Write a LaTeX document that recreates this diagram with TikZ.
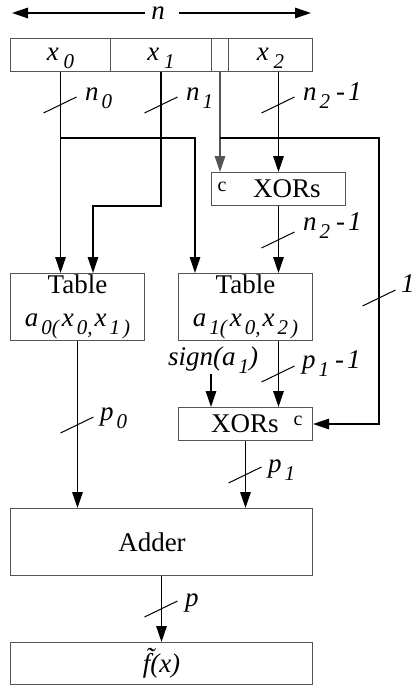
\documentclass[tikz,border=0pt]{standalone}
\usepackage{fontspec}
\setmainfont{Liberation Serif}
\usetikzlibrary{arrows.meta}
\definecolor{boxgray}{RGB}{85,85,85}
\newcommand\sbs[1]{\hspace{3pt}\raisebox{-8pt}{\fontsize{21}{21}\selectfont #1}}
\begin{document}
\begin{tikzpicture}[x=1pt,y=-1pt,
  box/.style={draw=boxgray, line width=1pt, inner sep=0pt, rectangle, anchor=north west,
    font=\fontsize{27}{33}\selectfont, align=center},
  txt/.style={inner sep=0pt, font=\fontsize{27}{30}\selectfont},
  small/.style={inner sep=0pt, font=\fontsize{20}{22}\selectfont},
  lbl/.style={inner sep=0pt, anchor=base west, font=\fontsize{27}{30}\selectfont\itshape},
  wire/.style={line width=1.4pt, black},
  arr/.style={wire, -{Triangle[length=16pt,width=10.5pt]}},
  tk/.style={line width=1pt, black}
]
\useasboundingbox (0,0) rectangle (414,685);
\fill[white] (0,0) rectangle (414,685);

% top width arrow
\node[lbl, anchor=base] (ntop) at (158,20) {n};
\coordinate (nL) at (12,13);
\coordinate (nR) at (311,13);
\draw[arr] ([xshift=-6pt]ntop.west |- nL) -- (nL);
\draw[arr] ([xshift=14pt]ntop.east |- nR) -- (nR);

% register
\node[box, minimum width=100pt, minimum height=33pt, text height=17pt, text depth=6pt] (reg0) at (10,38) {\itshape x\hspace{2pt}\sbs{0}};
\node[box, minimum width=101pt, minimum height=33pt, text height=17pt, text depth=6pt] (reg1) at (110,38) {\itshape x\hspace{2pt}\sbs{1}};
\node[box, minimum width=17pt, minimum height=33pt] (regs) at (211,38) {};
\node[box, minimum width=84pt, minimum height=33pt, text height=17pt, text depth=6pt] (reg2) at (228,38) {\itshape x\hspace{2pt}\sbs{2}};

% boxes
\node[box, minimum width=134pt, minimum height=33pt] (xor1) at (211,172) {};
\node[small] (xor1c) at (222,187) {c};
\node[txt] (xor1t) at (287,189) {XORs};

\node[box, minimum width=134pt, minimum height=67pt] (t0) at (10,273)
  {Table\\\itshape a\sbs{0(}\hspace{3pt}x\sbs{0,}\hspace{2pt}x\sbs{1\hspace{3pt})}};
\node[box, minimum width=134pt, minimum height=67pt] (t1) at (178,273)
  {Table\\\itshape a\sbs{1(}\hspace{3pt}x\sbs{0,}\hspace{2pt}x\sbs{2\hspace{3pt})}};

\node[box, minimum width=134pt, minimum height=33pt] (xor2) at (178,407) {};
\node[txt] (xor2t) at (245,424) {XORs};
\node[small] (xor2c) at (298,421) {c};

\node[box, minimum width=302pt, minimum height=67pt] (add) at (10,508) {};
\node[txt] (addt) at (152,542) {Adder};

\node[box, minimum width=302pt, minimum height=42pt] (fx) at (10,642) {\itshape \~{f}(x)};

% wires
\coordinate (j0) at (60,138);
\coordinate (k2) at (195,273);
\draw[arr] (reg0.south) -- (t0.north -| reg0.south);
\draw[arr] (j0) -| (k2);

\coordinate (k1) at (93,206);
\draw[arr] (reg1.south) |- (k1) -- (k1 |- t0.north);

\draw[line width=1.4pt, boxgray, -{Triangle[length=16pt,width=10.5pt]}] (regs.south) -- (regs.south |- xor1.north);
\coordinate (j1) at (219.5,138);
\coordinate (k3) at (379,138);
\draw[arr] (j1) -- (k3) |- (xor2.east);

\draw[arr] (reg2.south -| xor1.north) -- (xor1.north);
\draw[arr] (xor1.south) -- (t1.north -| xor1.south);
\draw[arr] (t0.south) -- (t0.south |- add.north);
\draw[arr] (t1.south -| xor1.south) -- (xor2.north -| xor1.south);

\node[lbl] (sgn) at (168,365) {sign(a\sbs{1})};
\coordinate (s) at (211,374);
\draw[arr] (s) -- (s |- xor2.north);

\draw[arr] (xor2.south) -- (xor2.south |- add.north);
\draw[arr] (add.south) -- (fx.north);

% ticks
\foreach \p in {(60,105),(161,105),(278,105),(278,240),(379,298),(278,374),(77,425),(245,475),(161,609)}
  \draw[tk] \p ++(-16.5,8) -- ++(33,-16);

% labels
\node[lbl] (ln0) at (85,100) {n\sbs{0}};
\node[lbl] (ln1) at (186,100) {n\sbs{1}};
\node[lbl] (ln2) at (303,100) {n\sbs{2}\hspace{6pt}-\hspace{3pt}1};
\node[lbl] (ln2b) at (303,230) {n\sbs{2}\hspace{6pt}-\hspace{3pt}1};
\node[lbl] (lone) at (401,292) {1};
\node[lbl] (lp11) at (302,368) {p\sbs{1}\hspace{6pt}-\hspace{3pt}1};
\node[lbl] (lp0) at (100,420) {p\sbs{0}};
\node[lbl] (lp1) at (268,472) {p\sbs{1}};
\node[lbl] (lp) at (185,606) {p};
\end{tikzpicture}
\end{document}
